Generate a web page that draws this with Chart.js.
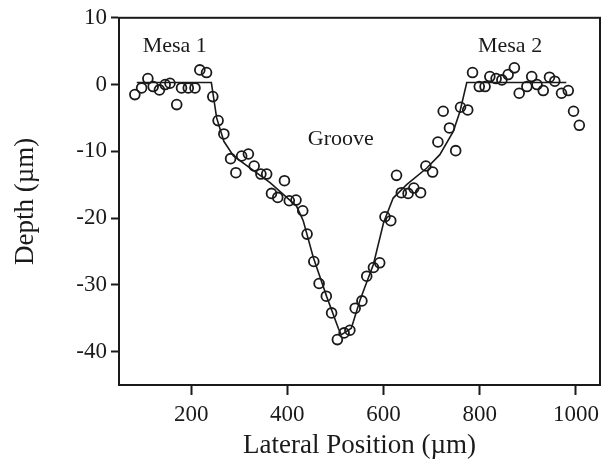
<!DOCTYPE html>
<html>
<head>
<meta charset="utf-8">
<script src="https://cdn.jsdelivr.net/npm/chart.js@4"></script>
<style>
  html, body { margin: 0; padding: 0; background: #fff; }
  #wrap { width: 609px; height: 468px; }
</style>
</head>
<body>
<div id="wrap"><canvas id="depthChart" width="609" height="468"></canvas></div>
<script>
/* --- datos medidos (circulos) --- */
const lateralPos = [83, 97, 110, 121, 134, 146, 156, 170, 180, 194, 208, 218, 232, 245, 256, 268,
  282, 293, 305, 319, 331, 345, 357, 367, 380, 394, 404, 418, 432, 441, 455, 466, 481, 492, 504,
  518, 530, 541, 555, 565, 579, 592, 603, 615, 627, 637, 651, 663, 677, 688, 702, 713, 724, 737,
  750, 760, 775, 785, 799, 811, 821, 834, 846, 859, 872, 882, 898, 908, 919, 932, 945, 956, 970,
  984, 995, 1007];
const depth = [-1.5, -0.5, 0.9, -0.3, -0.8, 0, 0.2, -3.0, -0.5, -0.5, -0.5, 2.2, 1.8, -1.8, -5.4, -7.4,
  -11.1, -13.2, -10.7, -10.4, -12.2, -13.4, -13.4, -16.3, -16.9, -14.4, -17.4, -17.3, -18.9, -22.4, -26.5, -29.8, -31.7, -34.2, -38.2,
  -37.2, -36.8, -33.5, -32.4, -28.7, -27.4, -26.7, -19.8, -20.4, -13.6, -16.2, -16.3, -15.5, -16.2, -12.2, -13.1, -8.6, -4.0, -6.5,
  -9.9, -3.4, -3.8, 1.8, -0.3, -0.3, 1.2, 0.9, 0.7, 1.5, 2.5, -1.3, -0.3, 1.2, 0.0, -0.9, 1.1, 0.5, -1.3,
  -0.9, -4.0, -6.1];

/* --- curva ajustada (linea) --- */
const fitX = [87, 242, 253, 268, 288, 364, 405, 419, 433, 454, 482, 506, 512, 533, 551, 579, 600, 620, 648, 690, 717, 745, 759, 773, 980];
const fitY = [0.3, 0.3, -5, -8.5, -10.7, -14.7, -17.3, -18.2, -20.4, -25.9, -31.8, -36.5, -37.5, -36.5, -32.3, -26.9, -20.7, -17.0, -15, -12.5, -10.5, -7, -4, 0.3, 0.3];

/* --- ejes --- */
const xTicks = [200, 400, 600, 800, 1000];
const yTicks = [-40, -30, -20, -10, 0, 10];

/* --- etiquetas dentro del grafico --- */
const noteText = ['Mesa 1', 'Mesa 2', 'Groove'];
const noteX = [166, 863, 511];
const noteY = [5.7, 5.7, -8.2];

const INK = '#1a1a1a';
const SERIF = '"Liberation Serif", "Times New Roman", serif';

const framePlugin = {
  id: 'frame',
  afterDraw(chart) {
    const { ctx, chartArea: a, scales } = chart;
    ctx.save();
    ctx.strokeStyle = INK;
    ctx.lineWidth = 2;
    ctx.strokeRect(a.left, a.top, a.right - a.left, a.bottom - a.top);
    ctx.fillStyle = INK;
    ctx.font = '22px ' + SERIF;
    ctx.textAlign = 'center';
    ctx.textBaseline = 'middle';
    noteText.forEach((t, i) => {
      ctx.fillText(t, scales.x.getPixelForValue(noteX[i]), scales.y.getPixelForValue(noteY[i]));
    });
    ctx.restore();
  }
};

const points = lateralPos.map((x, i) => ({ x, y: depth[i] }));
const fit = fitX.map((x, i) => ({ x, y: fitY[i] }));

new Chart(document.getElementById('depthChart'), {
  type: 'scatter',
  data: {
    datasets: [
      {
        type: 'line',
        data: fit,
        borderColor: INK,
        borderWidth: 1.6,
        pointRadius: 0,
        tension: 0,
        fill: false
      },
      {
        data: points,
        pointStyle: 'circle',
        pointRadius: 4.9,
        borderWidth: 1.8,
        borderColor: INK,
        backgroundColor: 'rgba(0,0,0,0)'
      }
    ]
  },
  options: {
    responsive: false,
    animation: false,
    layout: { padding: { top: 16, right: 9, left: 0, bottom: 0 } },
    plugins: { legend: { display: false }, tooltip: { enabled: false } },
    scales: {
      x: {
        type: 'linear',
        min: 50,
        max: 1050,
        afterBuildTicks: s => { s.ticks = xTicks.map(v => ({ value: v })); },
        afterFit: s => { s.height = 83; },
        grid: { drawOnChartArea: false, tickLength: 10, tickWidth: 2, tickColor: INK },
        border: { display: true, color: INK, width: 2 },
        ticks: { color: INK, font: { family: SERIF, size: 23 }, padding: 6, maxRotation: 0, callback: v => String(v) },
        title: { display: true, text: 'Lateral Position (µm)', color: INK, font: { family: SERIF, size: 27 }, padding: { top: 0, bottom: 6 } }
      },
      y: {
        type: 'linear',
        min: -45,
        max: 10,
        afterBuildTicks: s => { s.ticks = yTicks.map(v => ({ value: v })); },
        afterFit: s => { s.width = 119; },
        grid: { drawOnChartArea: false, tickLength: 8, tickWidth: 2, tickColor: INK },
        border: { display: true, color: INK, width: 2 },
        ticks: { color: INK, font: { family: SERIF, size: 23 }, padding: 4, callback: v => String(v) },
        title: { display: true, text: 'Depth (µm)', color: INK, font: { family: SERIF, size: 27 }, padding: { top: 10, bottom: 4 } }
      }
    }
  },
  plugins: [framePlugin]
});
</script>
</body>
</html>
